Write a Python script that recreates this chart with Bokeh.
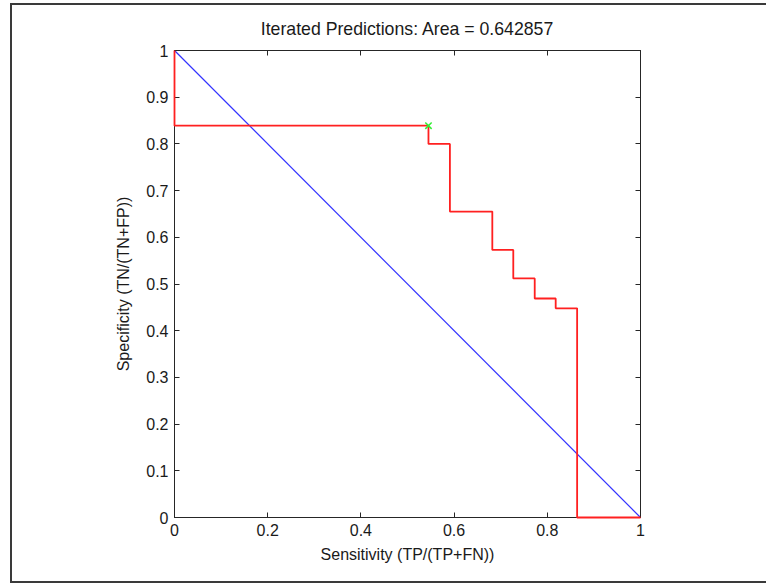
from bokeh.plotting import figure
from bokeh.models import Range1d, LinearAxis, FixedTicker, CustomJSTickFormatter
from bokeh.embed import file_html
from bokeh.resources import INLINE

# ROC-style step curve (sensitivity vs specificity)
roc_x = [0.0, 0.545, 0.591, 0.682, 0.727, 0.773, 0.818, 0.864, 1.0]
roc_y = [1.0, 0.839, 0.800, 0.655, 0.573, 0.512, 0.469, 0.448, 0.0]
diag_x = [0.0, 1.0]
diag_y = [1.0, 0.0]
point_x = [0.545]
point_y = [0.839]
x_ticks = [0, 0.2, 0.4, 0.6, 0.8, 1]
y_ticks = [0, 0.1, 0.2, 0.3, 0.4, 0.5, 0.6, 0.7, 0.8, 0.9, 1]
title_text = "Iterated Predictions: Area = 0.642857"
x_label = "Sensitivity (TP/(TP+FN))"
y_label = "Specificity (TN/(TN+FP))"

FONT = "Liberation Sans"
AXC = "#262626"

p = figure(frame_width=466, frame_height=467,
           min_border_left=162, min_border_right=126,
           min_border_top=44, min_border_bottom=64,
           x_range=Range1d(0, 1), y_range=Range1d(0, 1),
           output_backend="svg", toolbar_location=None,
           title=title_text)
p.styles = {"border-left": "2px solid #3a3a3a",
            "border-top": "2px solid #3a3a3a",
            "border-bottom": "2px solid #3a3a3a",
            "margin-left": "10px",
            "margin-top": "3px"}

p.title.text_font = FONT
p.title.text_font_size = "17.7px"
p.title.text_font_style = "normal"
p.title.align = "center"
p.title.text_color = "#1a1a1a"
p.title.standoff = 23

p.xgrid.visible = False
p.ygrid.visible = False
p.outline_line_color = AXC
p.outline_line_width = 1
p.outline_line_alpha = 1
p.background_fill_color = "white"
p.border_fill_color = "white"

def style_axis(ax, ticks, show_labels=True):
    ax.ticker = FixedTicker(ticks=ticks)
    ax.axis_line_color = AXC
    ax.major_tick_line_color = AXC
    ax.major_tick_in = 5
    ax.major_tick_out = 0
    ax.minor_tick_line_color = None
    ax.major_label_text_font = FONT
    ax.major_label_text_color = "#1a1a1a"
    ax.major_label_text_font_size = "16px"
    ax.axis_label_text_font = FONT
    ax.axis_label_text_font_style = "normal"
    ax.axis_label_text_font_size = "16px"
    ax.axis_label_text_color = "#1a1a1a"
    if show_labels:
        ax.major_label_standoff = 6
    else:
        ax.formatter = CustomJSTickFormatter(code="return '';")
        ax.major_label_standoff = 0

style_axis(p.xaxis[0], x_ticks)
style_axis(p.yaxis[0], y_ticks)
p.xaxis[0].axis_label = x_label
p.yaxis[0].axis_label = y_label
p.xaxis[0].axis_label_standoff = 7
p.yaxis[0].axis_label_standoff = 11
p.xaxis[0].major_label_overrides = {0: "0", 1: "1"}
p.yaxis[0].major_label_overrides = {0: "0", 1: "1"}

top_ax = LinearAxis()
right_ax = LinearAxis()
style_axis(top_ax, x_ticks, show_labels=False)
style_axis(right_ax, y_ticks, show_labels=False)
p.add_layout(top_ax, "above")
p.add_layout(right_ax, "right")

p.line(diag_x, diag_y, line_color="#3333ff", line_width=1.2)
p.step(roc_x, roc_y, mode="before", line_color="#ff2020", line_width=1.8, level="overlay")
p.scatter(point_x, point_y, marker="x", size=9, line_color="#33ee33", line_width=1.5, level="overlay")

open("out.html", "w").write(file_html(p, INLINE))
